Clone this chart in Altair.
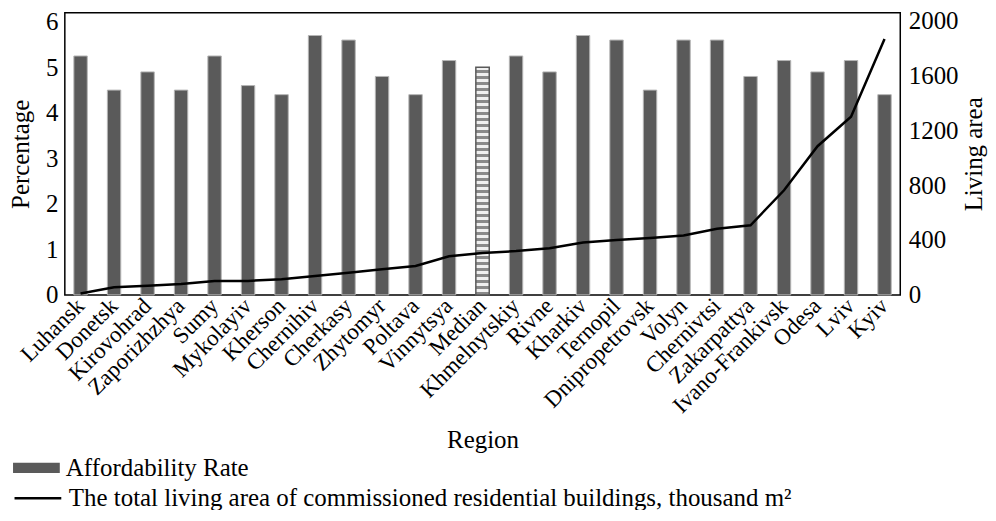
import altair as alt
import pandas as pd

regions = ["Luhansk", "Donetsk", "Kirovohrad", "Zaporizhzhya", "Sumy", "Mykolayiv",
           "Kherson", "Chernihiv", "Cherkasy", "Zhytomyr", "Poltava", "Vinnytsya",
           "Median", "Khmelnytskiy", "Rivne", "Kharkiv", "Ternopil", "Dnipropetrovsk",
           "Volyn", "Chernivtsi", "Zakarpattya", "Ivano-Frankivsk", "Odesa", "Lviv", "Kyiv"]
affordability = [5.25, 4.5, 4.9, 4.5, 5.25, 4.6, 4.4, 5.7, 5.6, 4.8, 4.4, 5.15,
                 5.0, 5.25, 4.9, 5.7, 5.6, 4.5, 5.6, 5.6, 4.8, 5.15, 4.9, 5.15, 4.4]
living_area = [10, 55, 67, 79, 102, 102, 114, 138, 162, 186, 210, 281,
               305, 319, 340, 381, 400, 414, 433, 481, 507, 762, 1083, 1298, 1864]
left_ticks = [0, 1, 2, 3, 4, 5, 6]
right_ticks = [0, 400, 800, 1200, 1600, 2000]

bar_name = "Affordability Rate"
line_name = "The total living area of commissioned residential buildings, thousand m²"

df = pd.DataFrame({"Region": regions, "Rate": affordability, "Area": living_area})
df["BarSeries"] = bar_name
df["LineSeries"] = line_name

FONT = "Liberation Serif"

# hatch-like fill for the median bar (fine horizontal stripes)
n_stripes = 76
stops = []
for i in range(n_stripes):
    c = "#f0f0f0" if i % 2 == 0 else "#8a8a8a"
    stops.append(alt.GradientStop(offset=i / n_stripes, color=c))
    stops.append(alt.GradientStop(offset=(i + 1) / n_stripes, color=c))
checker = alt.LinearGradient(gradient="linear", stops=stops, x1=0, x2=0, y1=0, y2=1)

x_enc = alt.X("Region:N", sort=regions, title="Region",
              scale=alt.Scale(paddingInner=0.6, paddingOuter=0.27),
              axis=alt.Axis(labelAngle=-45, labelAlign="right", labelBaseline="middle",
                            labelFont=FONT, labelFontSize=23, labelColor="black",
                            labelPadding=7, ticks=False, domain=False,
                            titleFont=FONT, titleFontSize=25, titleFontWeight="normal",
                            titleColor="black", titlePadding=10))

y_left = alt.Y("Rate:Q", title="Percentage",
               scale=alt.Scale(domain=[0, 6.2], nice=False),
               axis=alt.Axis(values=left_ticks, grid=False, ticks=False, domain=False,
                             labelFont=FONT, labelFontSize=25, labelColor="black",
                             labelPadding=7, titleFont=FONT, titleFontSize=25,
                             titleFontWeight="normal", titleColor="black", titlePadding=12))

base = alt.Chart(df)

bars = base.transform_filter(alt.datum.Region != "Median").mark_bar(
    stroke="#b5b5b5", strokeWidth=1
).encode(
    x=x_enc,
    y=y_left,
    fill=alt.Fill("BarSeries:N", scale=alt.Scale(range=["#5a5a5a"]),
                  legend=alt.Legend(title=None, orient="none", legendX=-52, legendY=433,
                                    symbolType="M-1,-0.22H1V0.22H-1Z", symbolSize=2200,
                                    symbolStrokeWidth=0, symbolOpacity=1,
                                    labelFont=FONT, labelFontSize=25, labelColor="black",
                                    labelLimit=0, labelOffset=6)),
)

median = base.transform_filter(alt.datum.Region == "Median").mark_bar(
    fill=checker, stroke="#5a5a5a", strokeWidth=1.5
).encode(x=x_enc, y=y_left)

line = base.mark_line(color="black", strokeWidth=2.5).encode(
    x=x_enc,
    y=alt.Y("Area:Q", title="Living area",
            scale=alt.Scale(domain=[0, 2055], nice=False),
            axis=alt.Axis(orient="right", values=right_ticks, format="d", grid=False,
                          ticks=False, domain=False, labelFont=FONT, labelFontSize=25,
                          labelColor="black", labelPadding=8, titleFont=FONT,
                          titleFontSize=25, titleFontWeight="normal", titleColor="black",
                          titleAngle=270, titleBaseline="top", titlePadding=3)),
    stroke=alt.Stroke("LineSeries:N", scale=alt.Scale(range=["black"]),
                      legend=alt.Legend(title=None, orient="none", legendX=-52, legendY=462,
                                        symbolType="stroke", symbolSize=2200,
                                        symbolStrokeWidth=2.5,
                                        labelFont=FONT, labelFontSize=25, labelColor="black",
                                        labelLimit=0, labelOffset=6)),
)

chart = alt.layer(alt.layer(bars, median), line).resolve_scale(
    y="independent"
).properties(
    width=838, height=283,
    background="white",
    autosize=alt.AutoSizeParams(type="none"),
    padding={"left": 57, "top": 4, "right": 88, "bottom": 215},
).configure_view(
    stroke="black", strokeWidth=1.5
)

chart.save("out.html", embed_options={"renderer": "svg", "actions": False})
